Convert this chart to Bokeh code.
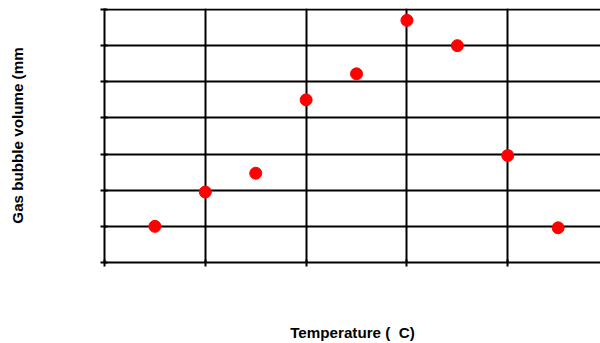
from bokeh.plotting import figure
from bokeh.models import FixedTicker, Range1d
from bokeh.embed import file_html
from bokeh.resources import INLINE

# Data (temperature in °C, gas bubble volume)
temperature = [5, 10, 15, 20, 25, 30, 35, 40, 45]
volume = [10, 19.5, 24.7, 45, 52.2, 67, 60, 29.6, 9.6]

x_ticks = [0, 10, 20, 30, 40, 50]
y_ticks = [0, 10, 20, 30, 40, 50, 60, 70]

p = figure(width=600, height=343, output_backend="svg", toolbar_location=None,
           x_range=Range1d(0, 49.2), y_range=Range1d(0, 70.28),
           min_border_left=104, min_border_right=0, min_border_top=8, min_border_bottom=80)

p.scatter(temperature, volume, size=12, color="#FF0000", line_color="#FF0000")

p.xaxis.ticker = FixedTicker(ticks=x_ticks)
p.yaxis.ticker = FixedTicker(ticks=y_ticks)
p.xaxis.major_label_overrides = {t: "" for t in x_ticks}
p.yaxis.major_label_overrides = {t: "" for t in y_ticks}
for ax in (p.xaxis, p.yaxis):
    ax.major_label_standoff = 0
    ax.axis_line_color = "black"
    ax.axis_line_width = 2
    ax.major_tick_line_color = "black"
    ax.major_tick_line_width = 2
    ax.major_tick_out = 4
    ax.major_tick_in = 3
    ax.minor_tick_line_color = None
    ax.axis_label_text_font = "Liberation Sans"
    ax.axis_label_text_font_style = "bold"
    ax.axis_label_text_font_size = "15.2px"
    ax.axis_label_text_color = "black"

p.xaxis.axis_label = "Temperature (\u00a0\u00a0C)"
p.yaxis.axis_label = "Gas bubble volume (mm"
p.xaxis.axis_label_standoff = 57
p.yaxis.axis_label_standoff = 75

p.xgrid.grid_line_color = "black"
p.ygrid.grid_line_color = "black"
p.xgrid.grid_line_width = 2
p.ygrid.grid_line_width = 2
p.xgrid.ticker = FixedTicker(ticks=x_ticks)
p.ygrid.ticker = FixedTicker(ticks=y_ticks)
p.outline_line_color = None
p.background_fill_color = "white"
p.border_fill_color = "white"

open("out.html", "w").write(file_html(p, INLINE))
